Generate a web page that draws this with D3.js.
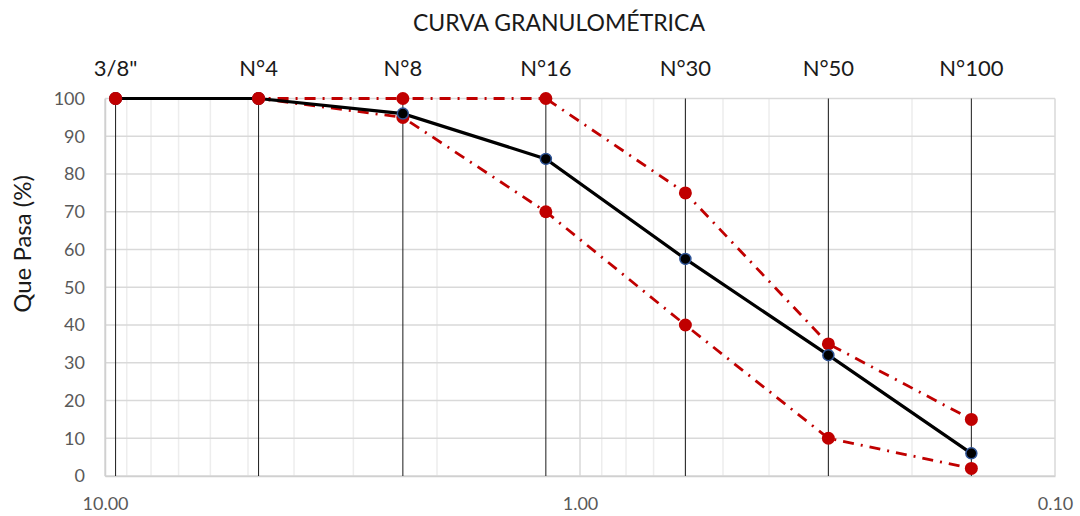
<!DOCTYPE html>
<html><head><meta charset="utf-8">
<script src="https://cdn.jsdelivr.net/npm/d3@7"></script>
<style>body{margin:0;background:#fff;} svg{display:block;font-family:Lato, "Open Sans", sans-serif;}</style>
</head><body>
<svg id="c" width="1080" height="516"></svg>
<script>
const sieves = ['3/8"', 'N°4', 'N°8', 'N°16', 'N°30', 'N°50', 'N°100'];
const openings = [9.5, 4.75, 2.36, 1.18, 0.6, 0.3, 0.15];
const passing = [100, 100, 96, 84, 57.5, 32, 6];
const upperLimit = [100, 100, 100, 100, 75, 35, 15];
const lowerLimit = [100, 100, 95, 70, 40, 10, 2];
const xTicks = [10, 1, 0.1];
const yTicks = [0,10,20,30,40,50,60,70,80,90,100];

const svg = d3.select('#c');
const x = d3.scaleLog().domain([10, 0.1]).range([105, 1055]);
const y = d3.scaleLinear().domain([0, 100]).range([476, 98.5]);

// minor vertical gridlines
const minor = [];
[1, 0.1].forEach(d => { for (let k = 2; k <= 9; k++) minor.push(k * d); });
svg.append('g').selectAll('line').data(minor).join('line')
  .attr('x1', d => x(d)).attr('x2', d => x(d)).attr('y1', y(100)).attr('y2', y(0))
  .attr('stroke', '#ededed').attr('stroke-width', 1.5);
// major vertical gridlines
svg.append('g').selectAll('line').data(xTicks).join('line')
  .attr('x1', d => x(d)).attr('x2', d => x(d)).attr('y1', y(100)).attr('y2', y(0))
  .attr('stroke', '#d9d9d9').attr('stroke-width', 1.5);
// horizontal gridlines
svg.append('g').selectAll('line').data(yTicks).join('line')
  .attr('x1', 105).attr('x2', 1055).attr('y1', d => y(d)).attr('y2', d => y(d))
  .attr('stroke', '#d9d9d9').attr('stroke-width', 1.5);

// y axis
const yAxis = svg.append('g').attr('transform', 'translate(105,0)')
  .call(d3.axisLeft(y).tickValues(yTicks).tickSize(0).tickPadding(20));
yAxis.select('.domain').attr('stroke', '#d0d0d0').attr('stroke-width', 1.5);
yAxis.selectAll('text').attr('font-size', 18).attr('fill', '#595959').attr('font-family', 'Lato, sans-serif');

// x axis
const xAxis = svg.append('g').attr('transform', 'translate(0,476)')
  .call(d3.axisBottom(x).tickValues(xTicks).tickFormat(d3.format('.2f')).tickSize(0).tickPadding(21));
xAxis.select('.domain').attr('stroke', '#d0d0d0').attr('stroke-width', 1.5);
xAxis.selectAll('text').attr('font-size', 18).attr('fill', '#595959').attr('font-family', 'Lato, sans-serif');

// sieve vertical lines
svg.append('g').selectAll('line').data(openings).join('line')
  .attr('x1', d => x(d)).attr('x2', d => x(d)).attr('y1', y(100)).attr('y2', y(0))
  .attr('stroke', '#1a1a1a').attr('stroke-width', 1);

// sieve labels at top
svg.append('g').selectAll('text').data(sieves).join('text')
  .attr('x', (d, i) => x(openings[i])).attr('y', 76)
  .attr('text-anchor', 'middle').attr('font-size', 22).attr('fill', '#1a1a1a')
  .text(d => d);

const line = d3.line().x((d, i) => x(openings[i])).y(d => y(d));

// limits
[upperLimit, lowerLimit].forEach(arr => {
  svg.append('path').datum(arr).attr('d', line).attr('fill', 'none')
    .attr('stroke', '#c00000').attr('stroke-width', 2.8)
    .attr('stroke-dasharray', '11,7,2,7').attr('stroke-linecap', 'butt');
});
// main
svg.append('path').datum(passing).attr('d', line).attr('fill', 'none')
  .attr('stroke', '#000').attr('stroke-width', 3.2);

[upperLimit, lowerLimit].forEach(arr => {
  svg.append('g').selectAll('circle').data(arr).join('circle')
    .attr('cx', (d, i) => x(openings[i])).attr('cy', d => y(d)).attr('r', 6.5)
    .attr('fill', '#c00000');
});
svg.append('g').selectAll('circle').data(passing).join('circle')
  .attr('cx', (d, i) => x(openings[i])).attr('cy', d => y(d)).attr('r', 5.5)
  .attr('fill', '#000').attr('stroke', '#2f5496').attr('stroke-width', 1.5);

// red markers drawn on top at the first points, as in the reference
svg.append('g').selectAll('circle').data(upperLimit.slice(0, 2)).join('circle')
  .attr('cx', (d, i) => x(openings[i])).attr('cy', d => y(d)).attr('r', 6.5)
  .attr('fill', '#c00000');

// title
svg.append('text').attr('x', 559).attr('y', 31).attr('text-anchor', 'middle')
  .attr('font-size', 23).attr('fill', '#1a1a1a').text('CURVA GRANULOMÉTRICA');
// y title
svg.append('text').attr('transform', 'translate(31,244) rotate(-90)').attr('text-anchor', 'middle')
  .attr('font-size', 24).attr('fill', '#1a1a1a').text('Que Pasa (%)');
</script>
</body></html>
